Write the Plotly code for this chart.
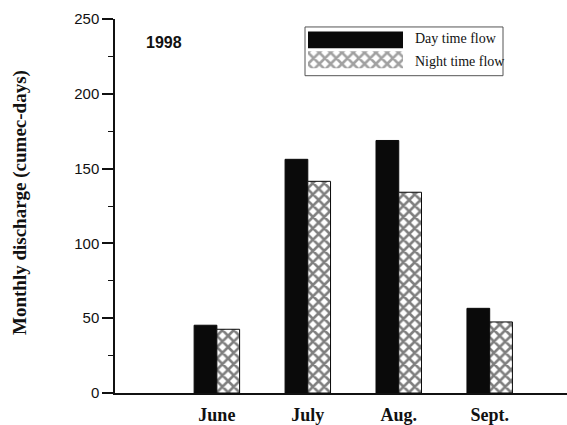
import plotly.graph_objects as go

months = ["June", "July", "Aug.", "Sept."]
day_flow = [45.3, 156.2, 168.8, 56.6]
night_flow = [42.6, 141.5, 134.2, 47.5]
y_ticks = [0, 50, 100, 150, 200, 250]
series_names = ["Day time flow", "Night time flow"]

W, H = 567, 425
L, R, T, B = 115, 0, 19, 30
pw, ph = W - L - R, H - T - B


def px(x):
    return (x - L) / pw


def py(y):
    return (H - B - y) / ph


HATCH = dict(shape="x", fgcolor="#000000", bgcolor="white", size=8, solidity=0.55)

fig = go.Figure()
fig.add_trace(go.Bar(
    x=months, y=day_flow, name=series_names[0],
    marker=dict(color="#0a0a0a", line=dict(color="#0a0a0a", width=1)),
    showlegend=False,
))
fig.add_trace(go.Bar(
    x=months, y=night_flow, name=series_names[1],
    marker=dict(color="white", line=dict(color="#0a0a0a", width=1), pattern=HATCH),
    showlegend=False,
))

# custom legend swatches (wide boxes as in the original)
fig.add_trace(go.Bar(
    x=[1, 1], y=["Night", "Day"], orientation="h",
    xaxis="x2", yaxis="y2", showlegend=False, hoverinfo="skip",
    marker=dict(color=["white", "#0a0a0a"], line=dict(width=0),
                pattern=dict(shape=["x", ""], fgcolor="#000000", bgcolor="white",
                             size=8, solidity=0.55)),
    width=0.85,
))

fig.update_layout(
    width=W, height=H,
    margin=dict(l=L, r=R, t=T, b=B),
    paper_bgcolor="white", plot_bgcolor="white",
    barmode="group", bargap=0.5, bargroupgap=0,
    xaxis=dict(
        type="category", range=[-1.12, 3.85],
        showline=True, linecolor="#111", linewidth=1.5,
        ticks="outside", ticklen=5, tickcolor="rgba(0,0,0,0)",
        showgrid=False, zeroline=False,
        tickfont=dict(family="Liberation Serif", size=18, color="#111"),
        tickprefix="<b>", ticksuffix="</b>",
    ),
    yaxis=dict(
        range=[0, 250], tickvals=y_ticks,
        showline=True, linecolor="#111", linewidth=1.5,
        ticks="outside", ticklen=11, tickwidth=1.5, tickcolor="#111",
        minor=dict(dtick=25, ticks="outside", ticklen=5, tickwidth=1.2, tickcolor="#111"),
        showgrid=False, zeroline=False,
        tickfont=dict(family="Liberation Sans", size=15, color="#111"),
    ),
    xaxis2=dict(domain=[px(308), px(403)], range=[0, 1], visible=False,
                anchor="y2", fixedrange=True),
    yaxis2=dict(domain=[py(70), py(30)], range=[-0.5, 1.5], visible=False,
                anchor="x2", type="category", fixedrange=True),
    showlegend=False,
)

fig.add_shape(type="rect", xref="paper", yref="paper",
              x0=px(305), x1=px(503), y0=py(76), y1=py(27),
              line=dict(color="#555", width=1), fillcolor="rgba(0,0,0,0)", layer="below")

fig.add_annotation(text="Day time flow", xref="paper", yref="paper",
                   x=px(413), y=py(39), xanchor="left", yanchor="middle", showarrow=False,
                   font=dict(family="Liberation Serif", size=14, color="#111"))
fig.add_annotation(text="Night time flow", xref="paper", yref="paper",
                   x=px(413), y=py(62), xanchor="left", yanchor="middle", showarrow=False,
                   font=dict(family="Liberation Serif", size=14, color="#111"))
fig.add_annotation(text="<b>1998</b>", xref="paper", yref="paper",
                   x=px(164), y=py(43), xanchor="center", yanchor="middle", showarrow=False,
                   font=dict(family="Liberation Sans", size=16, color="#111"))
fig.add_annotation(text="<b>Monthly discharge (cumec-days)</b>", xref="paper", yref="paper",
                   x=px(20), y=py(204), xanchor="center", yanchor="middle", showarrow=False,
                   textangle=-90,
                   font=dict(family="Liberation Serif", size=19, color="#111"))

fig.write_html(
    "out.html",
    config={"displayModeBar": False},
    post_script="document.body.style.margin='0';document.body.style.overflow='hidden';",
)
